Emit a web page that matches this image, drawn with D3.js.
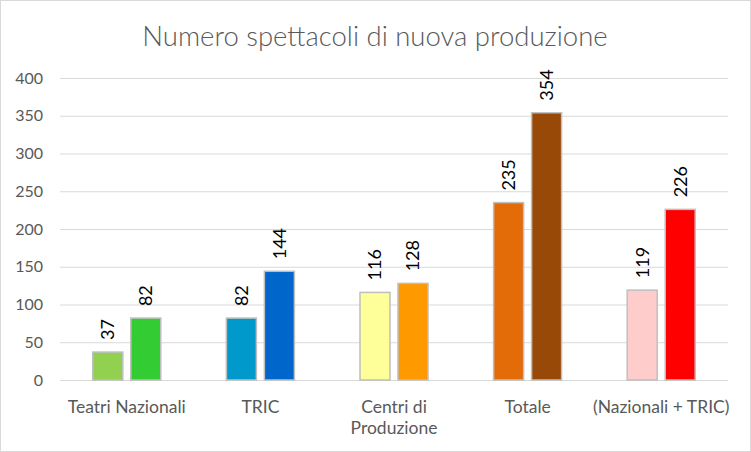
<!DOCTYPE html>
<html><head><meta charset="utf-8">
<script src="https://cdn.jsdelivr.net/npm/d3@7"></script>
<style>body{margin:0;background:#fff}svg{display:block;font-family:Lato,"Open Sans",sans-serif}</style>
</head><body><svg id="c" width="751" height="452"></svg>
<script>
const categories = [["Teatri Nazionali"], ["TRIC"], ["Centri di", "Produzione"], ["Totale"], ["(Nazionali + TRIC)"]];
const seriesA = [37, 82, 116, 235, 119];
const seriesB = [82, 144, 128, 354, 226];
const colorsA = ["#92d050", "#0099cc", "#ffff99", "#e36c09", "#ffcccc"];
const colorsB = ["#33cc33", "#0066cc", "#ff9900", "#984807", "#ff0000"];
const yTicks = [0, 50, 100, 150, 200, 250, 300, 350, 400];
const title = "Numero spettacoli di nuova produzione";

const svg = d3.select("#c");
svg.append("rect").attr("x",0.5).attr("y",0.5).attr("width",750).attr("height",451)
  .attr("fill","#fff").attr("stroke","#d9d9d9");

const x = d3.scaleBand().domain(d3.range(categories.length)).range([60, 728]);
const y = d3.scaleLinear().domain([0, 400]).range([380, 78]);

svg.append("text").attr("x", 375).attr("y", 46).attr("text-anchor","middle")
  .attr("font-size", 27.5).attr("fill", "#595959").attr("font-weight", 300).text(title);

const yAxis = d3.axisLeft(y).tickValues(yTicks).tickSize(-(728-60)).tickPadding(17);
const ga = svg.append("g").attr("transform","translate(60,0)").call(yAxis);
ga.select(".domain").remove();
ga.selectAll(".tick line").attr("stroke","#d9d9d9");
ga.selectAll(".tick text").attr("fill","#595959").attr("font-size",16).attr("font-family","Lato, 'Open Sans', sans-serif");

const bw = 30, gap = 8;
const groups = svg.append("g").selectAll("g").data(d3.range(categories.length)).join("g")
  .attr("transform", i => `translate(${x(i) + x.bandwidth()/2},0)`);

function drawBars(vals, cols, off) {
  groups.append("rect")
    .attr("x", off).attr("width", bw)
    .attr("y", i => y(vals[i])).attr("height", i => y(0) - y(vals[i]))
    .attr("fill", i => cols[i]).attr("stroke", "#bfbfbf").attr("stroke-width", 1.5);
  groups.append("text")
    .attr("transform", i => `translate(${off + bw/2},${y(vals[i]) - 12}) rotate(-90)`)
    .attr("dy", "0.35em").attr("font-size", 18).attr("fill", "#000")
    .text(i => vals[i]);
}
drawBars(seriesA, colorsA, -bw - gap/2);
drawBars(seriesB, colorsB, gap/2);

groups.append("text").attr("text-anchor","middle").attr("fill","#595959").attr("font-size",17.5)
  .selectAll("tspan").data(i => categories[i]).join("tspan")
  .attr("x", 0).attr("y", (d, j) => 413 + j * 21).text(d => d);
</script></body></html>
